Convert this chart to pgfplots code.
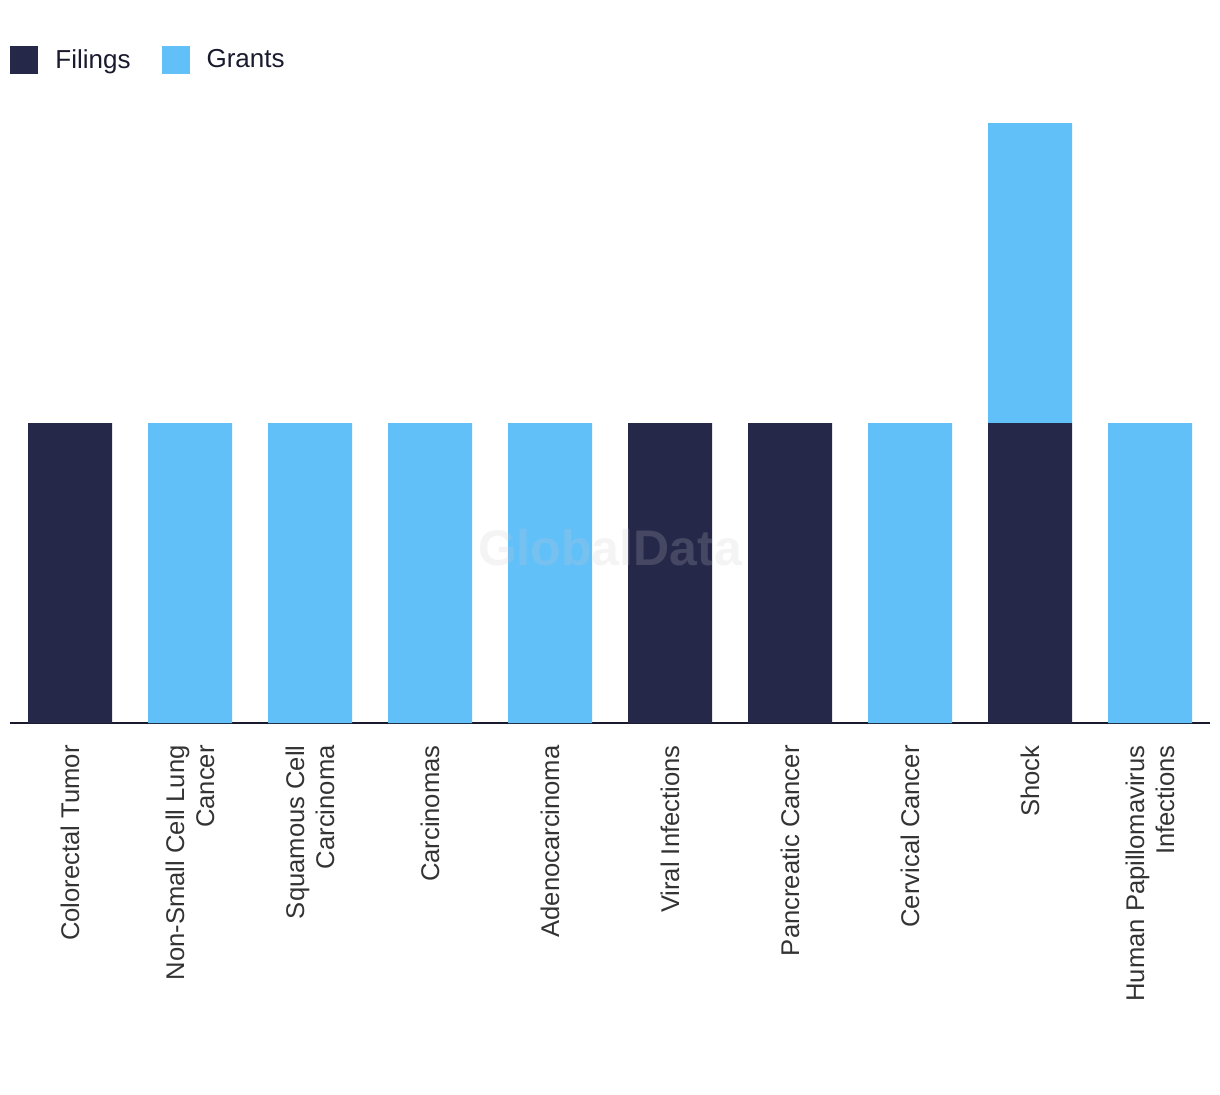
\documentclass[border=0pt]{standalone}
\usepackage{pgfplots}
\pgfplotsset{compat=1.18}
\usepackage{fontspec}
\setmainfont{Liberation Sans}
\definecolor{navy}{HTML}{262849}
\definecolor{sky}{HTML}{62C0F9}
\definecolor{axln}{HTML}{1A1A2E}
\definecolor{txt}{HTML}{333333}
\begin{document}
\begin{tikzpicture}
\begin{axis}[
  scale only axis,
  width=600pt, height=300pt,
  ybar stacked,
  bar width=42pt,
  xmin=-0.5, xmax=9.5,
  ymin=0, ymax=2,
  axis y line=none,
  axis x line*=bottom,
  axis line style={-, axln, line width=1pt},
  xtick=data,
  major tick length=0pt,
  xticklabels={Colorectal Tumor, {Non-Small Cell Lung\\Cancer}, {Squamous Cell\\Carcinoma}, Carcinomas, Adenocarcinoma, Viral Infections, Pancreatic Cancer, Cervical Cancer, Shock, {Human Papillomavirus\\Infections}},
  xticklabel style={rotate=90, anchor=east, align=right, inner sep=0pt, text=txt, font=\fontsize{12.8}{15}\selectfont},
  xticklabel shift=11pt,
  legend style={at={(0,1.13)}, anchor=north west, draw=none, fill=none, legend columns=-1, inner sep=0pt,
    font=\fontsize{13}{15}\selectfont, text=axln,
    /tikz/every even column/.append style={column sep=13.5pt}},
  legend image code/.code={\fill[#1, draw=none] (0pt,-7pt) rectangle (14pt,7pt); \path[draw=none, fill=none] (0pt,0pt) rectangle (20.5pt,0pt);},
  legend cell align=left,
  clip=false,
]
\addplot[fill=navy, draw=none] coordinates {(0,1) (1,0) (2,0) (3,0) (4,0) (5,1) (6,1) (7,0) (8,1) (9,0)};
\addplot[fill=sky, draw=none] coordinates {(0,0) (1,1) (2,1) (3,1) (4,1) (5,0) (6,0) (7,1) (8,1) (9,1)};
\legend{Filings, Grants}
\end{axis}
\node[font=\bfseries\fontsize{25}{25}\selectfont, text=black!22, opacity=0.2] at (300pt,87.6pt) {GlobalData};
\path (-5pt,-185.5pt) rectangle (605pt,361.5pt);
\end{tikzpicture}
\end{document}
